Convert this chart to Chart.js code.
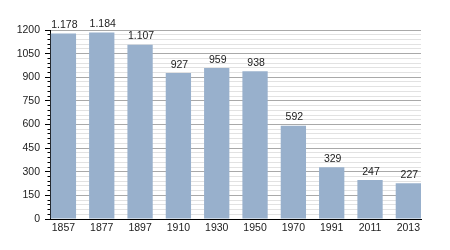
<!DOCTYPE html>
<html><head><meta charset="utf-8">
<script src="https://cdn.jsdelivr.net/npm/chart.js@4/dist/chart.umd.min.js"></script>
<style>html,body{margin:0;padding:0;background:#fff}#wrap{width:450px;height:250px}</style>
</head><body><div id="wrap"><canvas id="c"></canvas></div>
<script>
const years = ['1857','1877','1897','1910','1930','1950','1970','1991','2011','2013'];
const population = [1178,1184,1107,927,959,938,592,329,247,227];
const yMax = 1200;
const majorStep = 150;
const minorStep = 30;

function fmt(v){ return String(v).replace(/\B(?=(\d{3})+(?!\d))/g,'.'); }

const FONT = "'Liberation Sans', Arial, sans-serif";

const labelsPlugin = {
  id: 'valueLabels',
  afterDatasetsDraw(chart){
    const ctx = chart.ctx;
    const meta = chart.getDatasetMeta(0);
    ctx.save();
    ctx.font = "10.5px " + FONT;
    ctx.fillStyle = '#222';
    ctx.textAlign = 'center';
    ctx.textBaseline = 'bottom';
    meta.data.forEach((bar,i)=>{
      ctx.fillText(fmt(population[i]), bar.x + 1, bar.y - 3);
    });
    ctx.restore();
  }
};

new Chart(document.getElementById('c'), {
  type: 'bar',
  data: {
    datasets: [{
      data: population.map((v,i)=>({x:i, y:v})),
      backgroundColor: '#98b0cc',
      borderWidth: 0,
      categoryPercentage: 1,
      barPercentage: 0.66
    }]
  },
  options: {
    responsive: true,
    maintainAspectRatio: false,
    animation: false,
    devicePixelRatio: 1,
    layout: { padding: { top: 30, right: 29, left: 0, bottom: 0 } },
    plugins: { legend: { display: false }, tooltip: { enabled: false } },
    scales: {
      x: {
        type: 'linear',
        offset: false,
        min: -0.35,
        max: 9.33,
        grid: { display: false, drawTicks: false, offset: false },
        border: { display: true, color: '#000', width: 1 },
        afterBuildTicks(scale){ scale.ticks = years.map((y,i)=>({value:i})); },
        afterFit(scale){ scale.height = 31; scale.paddingLeft = 0; scale.paddingRight = 0; },
        ticks: {
          autoSkip: false, maxRotation: 0, padding: 3,
          color: '#222', font: { family: FONT, size: 10.5 },
          callback: (v)=> years[v] ?? ''
        }
      },
      y: {
        position: 'left',
        min: 0, max: yMax,
        weight: 1,
        afterFit(scale){ scale.width = 0; scale.paddingTop = 0; scale.paddingBottom = 0; },
        grid: {
          color: (c)=> (c.tick && c.tick.value % majorStep === 0) ? '#a9a9a9' : '#e2e2e2',
          tickColor: '#000',
          tickLength: 2.5,
          lineWidth: 1
        },
        border: { display: true, color: '#000', width: 1 },
        ticks: { stepSize: minorStep, autoSkip: false, display: true, callback: ()=>'' , padding: 0, font: {size: 1} }
      },
      y2: {
        position: 'left',
        min: 0, max: yMax,
        weight: 2,
        afterFit(scale){ scale.width = 50; scale.paddingTop = 0; scale.paddingBottom = 0; },
        grid: { drawOnChartArea: false, tickColor: '#000', tickLength: 5 },
        border: { display: true, color: '#000', width: 1 },
        ticks: {
          stepSize: majorStep, autoSkip: false, padding: 5,
          color: '#222', font: { family: FONT, size: 10.5 },
          callback: (v)=> String(v)
        }
      }
    }
  },
  plugins: [labelsPlugin]
});
</script>
</body></html>
